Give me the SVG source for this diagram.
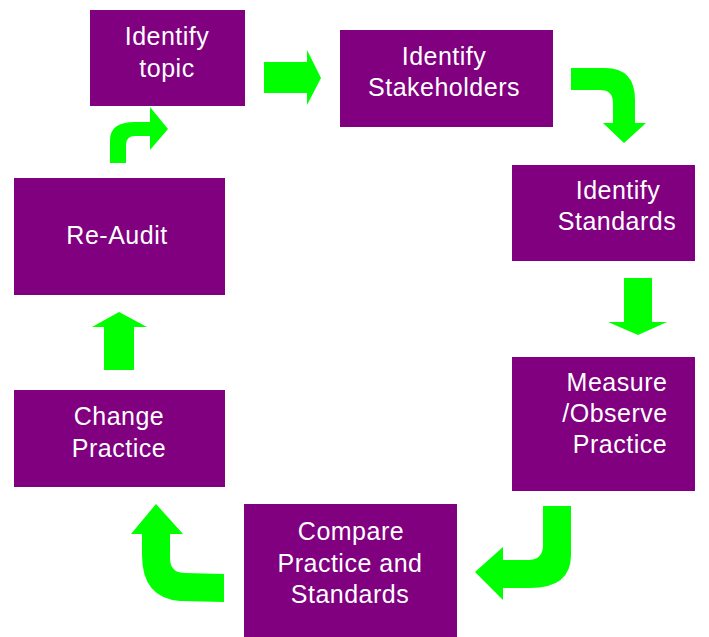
<svg xmlns="http://www.w3.org/2000/svg" width="709" height="637" viewBox="0 0 709 637">
<style>
.box{fill:#800080}
.lbl{font-family:"Liberation Sans",Arial,sans-serif;font-size:25px;letter-spacing:0.5px;fill:#ffffff;text-anchor:middle}
.arr{fill:#00ff00}
</style>
<rect width="709" height="637" fill="#ffffff"/>
<g id="connectors">
<path class="arr" d="M264,62 L307,62 L307,50 L321,78 L307,105 L307,93 L264,93 Z"/>
<path class="arr" d="M571,68 L605,68 Q635,68 635,100 L635,123 L646,123 L624,143 L603,123 L613,123 L613,103 Q613,90 600,90 L571,90 Z"/>
<path class="arr" d="M624,278 L652,278 L652,322 L667,322 L638,335 L608,322 L624,322 Z"/>
<path class="arr" d="M543,506 L571,506 L571,555 Q571,588 530,588 L503,588 L503,600 L475,572 L503,547 L503,560 L528,560 Q543,560 543,545 Z"/>
<path class="arr" d="M224,574 L224,602 L180,601 Q142,598 142,555 L142,534 L131,534 L156,504 L183,534 L170,534 L170,558 Q170,573 185,573 Z"/>
<path class="arr" d="M104,370 L134,370 L134,327 L147,327 L119,312 L92,327 L104,327 Z"/>
<path class="arr" d="M110,163 L110,140 Q110,122 135,122 L150,122 L150,107 L168,129 L150,150 L150,136 L135,136 Q126,136 126,145 L126,163 Z"/>
</g>
<g id="identify-topic">
<rect class="box" x="90" y="10" width="155" height="96"/>
<text class="lbl" x="167" y="45">Identify</text>
<text class="lbl" x="167" y="77">topic</text>
</g>
<g id="identify-stakeholders">
<rect class="box" x="340" y="30" width="213" height="97"/>
<text class="lbl" x="444" y="65">Identify</text>
<text class="lbl" x="444" y="96">Stakeholders</text>
</g>
<g id="identify-standards">
<rect class="box" x="512" y="165" width="183" height="96"/>
<text class="lbl" x="618" y="199">Identify</text>
<text class="lbl" x="617" y="230">Standards</text>
</g>
<g id="measure-observe">
<rect class="box" x="512" y="357" width="183" height="134"/>
<text class="lbl" x="617" y="391">Measure</text>
<text class="lbl" x="615" y="422">/Observe</text>
<text class="lbl" x="620" y="453">Practice</text>
</g>
<g id="compare">
<rect class="box" x="244" y="504" width="213" height="133"/>
<text class="lbl" x="351" y="540">Compare</text>
<text class="lbl" x="350" y="572">Practice and</text>
<text class="lbl" x="350" y="603">Standards</text>
</g>
<g id="change-practice">
<rect class="box" x="14" y="390" width="211" height="97"/>
<text class="lbl" x="119" y="425">Change</text>
<text class="lbl" x="119" y="457">Practice</text>
</g>
<g id="re-audit">
<rect class="box" x="14" y="178" width="211" height="117"/>
<text class="lbl" x="117" y="244">Re-Audit</text>
</g>
</svg>
